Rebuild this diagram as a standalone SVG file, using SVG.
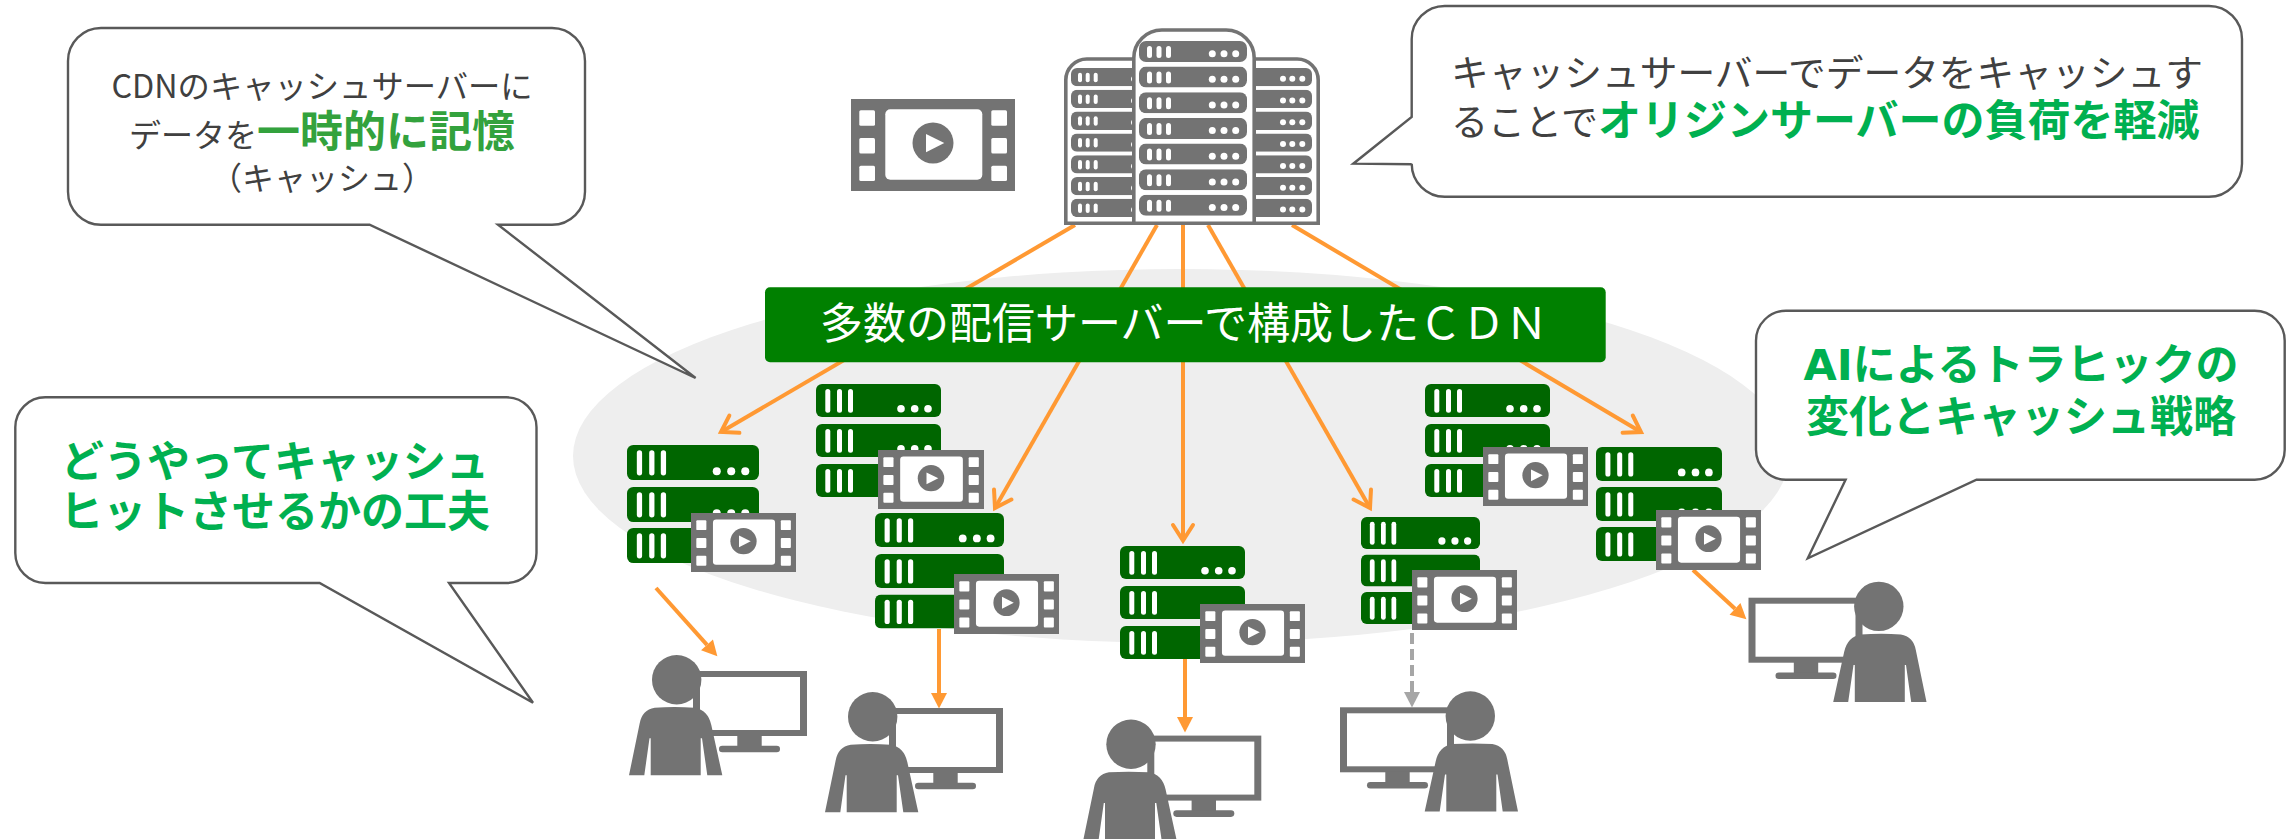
<svg xmlns="http://www.w3.org/2000/svg" xmlns:xlink="http://www.w3.org/1999/xlink" width="2293" height="839" viewBox="0 0 2293 839">
<style>
text{font-family:"Noto Sans CJK JP","Noto Sans",sans-serif;}
.grey{fill:#737373}
.w{fill:#fff}
.tower{fill:#fff;stroke:#737373;stroke-width:3.6}
.call{fill:#fff;stroke:#595959;stroke-width:2.4;stroke-linejoin:miter}
.line{fill:none;stroke:#FF9933;stroke-width:4}
.open{marker-end:url(#openArrow)}
.solid{marker-end:url(#solidArrow)}
.dash{fill:none;stroke:#A6A6A6;stroke-width:4;stroke-dasharray:11 5;marker-end:url(#greyArrow)}
.t{font-size:32px;fill:#404040;font-weight:400}
.b1{font-weight:700;fill:#33A23D;font-size:43px}
.b2{font-weight:700;fill:#00B050;font-size:43px}
</style>
<defs>
<marker id="openArrow" markerUnits="userSpaceOnUse" markerWidth="40" markerHeight="40" viewBox="-30 -20 40 40" refX="0" refY="0" orient="auto"><path d="M-15.5,-10 L0,0 L-15.5,10" fill="none" stroke="#FF9933" stroke-width="4" stroke-linecap="round"/></marker>
<marker id="solidArrow" markerUnits="userSpaceOnUse" markerWidth="40" markerHeight="40" viewBox="-5 -20 40 40" refX="0" refY="0" orient="auto"><path d="M0,-8 L15.5,0 L0,8 Z" fill="#FF9933"/></marker>
<marker id="greyArrow" markerUnits="userSpaceOnUse" markerWidth="40" markerHeight="40" viewBox="-5 -20 40 40" refX="0" refY="0" orient="auto"><path d="M0,-8 L15.5,0 L0,8 Z" fill="#A6A6A6"/></marker>
<symbol id="film" viewBox="0 0 164 92" preserveAspectRatio="none">
<rect width="164" height="92" class="grey"/>
<g class="w"><rect x="8.3" y="11.3" width="15.7" height="15.4" rx="1.5"/><rect x="8.3" y="39" width="15.7" height="15.4" rx="1.5"/><rect x="8.3" y="66.7" width="15.7" height="15.4" rx="1.5"/><rect x="140.3" y="11.3" width="15.7" height="15.4" rx="1.5"/><rect x="140.3" y="39" width="15.7" height="15.4" rx="1.5"/><rect x="140.3" y="66.7" width="15.7" height="15.4" rx="1.5"/><rect x="34.3" y="10.3" width="97" height="70.4" rx="5"/></g>
<circle cx="82" cy="44" r="20.5" class="grey"/><path d="M75,35 L93.3,44 L75,53.3 Z" class="w"/>
</symbol>
<symbol id="row" viewBox="0 0 125 33" preserveAspectRatio="none">
<rect width="125" height="33" rx="6" fill="#006600"/>
<g class="w"><rect x="9.3" y="5" width="5" height="23.7" rx="2.5"/><rect x="21" y="5" width="5" height="23.7" rx="2.5"/><rect x="32" y="5" width="5" height="23.7" rx="2.5"/><circle cx="85" cy="24.7" r="3.8"/><circle cx="98.7" cy="24.7" r="3.8"/><circle cx="112" cy="24.7" r="3.8"/></g>
</symbol>
<symbol id="trow" viewBox="0 0 108 21">
<rect width="108" height="21" rx="7" class="grey"/>
<g class="w"><rect x="8" y="5" width="5" height="12" rx="2.5"/><rect x="17.5" y="5" width="5" height="12" rx="2.5"/><rect x="27" y="5" width="5" height="12" rx="2.5"/><circle cx="73.3" cy="12.7" r="3.5"/><circle cx="85" cy="12.7" r="3.5"/><circle cx="96.7" cy="12.7" r="3.5"/></g>
</symbol>
<symbol id="lrow" viewBox="0 0 70 18.3">
<rect width="90" height="18.3" rx="6" class="grey"/>
<g class="w"><rect x="7" y="4.7" width="4" height="9.5" rx="2"/><rect x="14.7" y="4.7" width="4" height="9.5" rx="2"/><rect x="22.7" y="4.7" width="4" height="9.5" rx="2"/><circle cx="63" cy="11" r="3"/></g>
</symbol>
<symbol id="rrow" viewBox="0 0 70 18.3">
<rect x="-20" width="90" height="18.3" rx="6" class="grey"/>
<g class="w"><circle cx="41" cy="10.7" r="3"/><circle cx="50.3" cy="10.7" r="3"/><circle cx="60.3" cy="10.7" r="3"/></g>
</symbol>
<g id="user">
<rect x="64" y="16" width="114" height="65" class="grey"/><rect x="71" y="22" width="100" height="53" class="w"/>
<rect x="108.3" y="80" width="24.4" height="12" class="grey"/><rect x="90" y="90.7" width="61" height="6.6" rx="3.3" class="grey"/>
<circle cx="47.7" cy="24.7" r="24.7" class="grey"/>
<path class="grey" d="M0,120.3 L10.7,68.3 Q13,55 25.7,52.7 Q45,51.5 65.7,52.7 Q79,55 82.3,70 L93.3,120.3 L78.3,120.3 L73,83.3 L71.7,83.3 L71.7,120.3 L21.7,120.3 L21.7,83.3 L20.5,83.3 L15.3,120.3 Z"/>
</g>
</defs>
<ellipse id="cdn-area" cx="1181" cy="456" rx="608" ry="187" fill="#EEEEEE"/>
<g id="connectors">
<path class="line open" d="M1075,225 L721,432"/>
<path class="line open" d="M1157,225 L995,508"/>
<path class="line open" d="M1183,225 L1183,540.5"/>
<path class="line open" d="M1208,225 L1370,508"/>
<path class="line open" d="M1292,225 L1641,432"/>
<path class="line solid" d="M656,588 L707,644.8"/>
<path class="line solid" d="M939,629 L939,693"/>
<path class="line solid" d="M1185,659 L1185,717"/>
<path class="dash" d="M1412,633 L1412,692"/>
<path class="line solid" d="M1693,570 L1735,608.8"/>
</g>
<g id="origin-server">
<path class="tower" d="M1065.8,223.2 V80 a21,21 0 0 1 21,-21 H1297.2 a21,21 0 0 1 21,21 V223.2 Z"/>
<use href="#lrow" x="1071" y="68" width="70" height="18.3"/><use href="#lrow" x="1071" y="89.8" width="70" height="18.3"/><use href="#lrow" x="1071" y="111.6" width="70" height="18.3"/><use href="#lrow" x="1071" y="133.4" width="70" height="18.3"/><use href="#lrow" x="1071" y="155.2" width="70" height="18.3"/><use href="#lrow" x="1071" y="177" width="70" height="18.3"/><use href="#lrow" x="1071" y="198.8" width="70" height="18.3"/>
<use href="#rrow" x="1242" y="68" width="70" height="18.3"/><use href="#rrow" x="1242" y="89.8" width="70" height="18.3"/><use href="#rrow" x="1242" y="111.6" width="70" height="18.3"/><use href="#rrow" x="1242" y="133.4" width="70" height="18.3"/><use href="#rrow" x="1242" y="155.2" width="70" height="18.3"/><use href="#rrow" x="1242" y="177" width="70" height="18.3"/><use href="#rrow" x="1242" y="198.8" width="70" height="18.3"/>
<path class="tower" d="M1133.8,223.2 V58 a28,28 0 0 1 28,-28 H1226.2 a28,28 0 0 1 28,28 V223.2 Z"/>
<use href="#trow" x="1139" y="41" width="108" height="21"/><use href="#trow" x="1139" y="66.6" width="108" height="21"/><use href="#trow" x="1139" y="92.3" width="108" height="21"/><use href="#trow" x="1139" y="117.9" width="108" height="21"/><use href="#trow" x="1139" y="143.5" width="108" height="21"/><use href="#trow" x="1139" y="169.2" width="108" height="21"/><use href="#trow" x="1139" y="194.8" width="108" height="21"/>
</g>
<g id="origin-film"><use href="#film" x="851" y="99" width="164" height="92"/></g>
<g id="cdn-bar">
<rect x="765" y="287.3" width="840.7" height="75" rx="5" fill="#008000"/>
<text x="820" y="339" font-size="43" fill="#fff" textLength="728" lengthAdjust="spacingAndGlyphs" font-weight="400">多数の配信サーバーで構成したＣＤＮ</text>
</g>
<g id="stack-a"><use href="#row" x="627" y="445" width="132" height="35"/><use href="#row" x="627" y="487" width="132" height="35"/><use href="#row" x="627" y="528" width="132" height="35"/><use href="#film" x="691" y="513" width="105" height="59"/></g>
<g id="stack-b"><use href="#row" x="816" y="384" width="125" height="33"/><use href="#row" x="816" y="424" width="125" height="33"/><use href="#row" x="816" y="464" width="125" height="33"/><use href="#film" x="878" y="450" width="106" height="59"/></g>
<g id="stack-c"><use href="#row" x="875" y="513" width="129" height="34"/><use href="#row" x="875" y="554" width="129" height="34"/><use href="#row" x="875" y="594.5" width="129" height="34"/><use href="#film" x="954" y="574" width="105" height="60"/></g>
<g id="stack-d"><use href="#row" x="1120" y="546" width="125" height="33"/><use href="#row" x="1120" y="586" width="125" height="33"/><use href="#row" x="1120" y="626" width="125" height="33"/><use href="#film" x="1200" y="604" width="105" height="59"/></g>
<g id="stack-e"><use href="#row" x="1361" y="517" width="119" height="32"/><use href="#row" x="1361" y="554.5" width="119" height="32"/><use href="#row" x="1361" y="592" width="119" height="32"/><use href="#film" x="1412" y="570" width="105" height="60"/></g>
<g id="stack-f"><use href="#row" x="1425" y="384" width="125" height="33"/><use href="#row" x="1425" y="424" width="125" height="33"/><use href="#row" x="1425" y="464" width="125" height="33"/><use href="#film" x="1483" y="447" width="105" height="59"/></g>
<g id="stack-g"><use href="#row" x="1596" y="447" width="126" height="34"/><use href="#row" x="1596" y="487" width="126" height="34"/><use href="#row" x="1596" y="527" width="126" height="34"/><use href="#film" x="1656" y="510" width="105" height="60"/></g>
<g id="user-1"><use href="#user" transform="translate(629,655)"/></g>
<g id="user-2"><use href="#user" transform="translate(825,692)"/></g>
<g id="user-3"><use href="#user" transform="translate(1083.3,719.6)"/></g>
<g id="user-4"><use href="#user" transform="translate(1518,691.3) scale(-1,1)"/></g>
<g id="user-5"><use href="#user" transform="translate(1926.5,581.7) scale(-1,1)"/></g>
<g id="callout-cache">
<path class="call" d="M101,28 H552 a33,33 0 0 1 33,33 V191.7 a33,33 0 0 1 -33,33 H498 L695.6,378 L369.6,224.7 H101 a33,33 0 0 1 -33,-33 V61 a33,33 0 0 1 33,-33 Z"/>
<text x="322" y="98" text-anchor="middle" class="t" style="font-size:32.3px">CDNのキャッシュサーバーに</text>
<text x="322" y="147" text-anchor="middle" class="t">データを<tspan class="b1">一時的に記憶</tspan></text>
<text x="322" y="190" text-anchor="middle" class="t">（キャッシュ）</text>
</g>
<g id="callout-hit">
<path class="call" d="M45.3,397.3 H506.5 a30,30 0 0 1 30,30 V553 a30,30 0 0 1 -30,30 H449 L533,702.7 L319.6,583 H45.3 a30,30 0 0 1 -30,-30 V427.3 a30,30 0 0 1 30,-30 Z"/>
<text x="275" y="477" text-anchor="middle" class="b2">どうやってキャッシュ</text>
<text x="275" y="527" text-anchor="middle" class="b2">ヒットさせるかの工夫</text>
</g>
<g id="callout-origin">
<path class="call" d="M1444.7,6 H2209 a33,33 0 0 1 33,33 V163.7 a33,33 0 0 1 -33,33 H1444.7 a33,33 0 0 1 -33,-33 V164.3 L1353.3,163.7 L1411.7,117 V39 a33,33 0 0 1 33,-33 Z"/>
<text x="1451" y="87" class="t" style="font-size:37px" textLength="752" lengthAdjust="spacingAndGlyphs">キャッシュサーバーでデータをキャッシュす</text>
<text x="1451" y="136" class="t" style="font-size:37px">ることで<tspan class="b2">オリジンサーバーの負荷を軽減</tspan></text>
</g>
<g id="callout-ai">
<path class="call" d="M1786,310.7 H2254.7 a30,30 0 0 1 30,30 V449.7 a30,30 0 0 1 -30,30 H1976.5 L1807.8,558.3 L1845.6,479.7 H1786 a30,30 0 0 1 -30,-30 V340.7 a30,30 0 0 1 30,-30 Z"/>
<text x="2021" y="380" text-anchor="middle" class="b2"><tspan font-family="DejaVu Sans">AI</tspan>によるトラヒックの</text>
<text x="2021" y="432" text-anchor="middle" class="b2">変化とキャッシュ戦略</text>
</g>
</svg>
